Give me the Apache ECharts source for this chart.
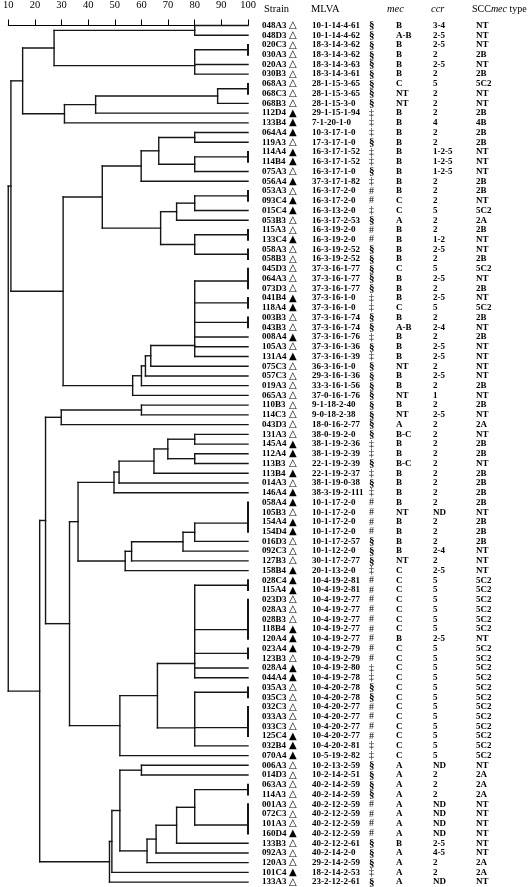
<!DOCTYPE html>
<html><head><meta charset="utf-8">
<script src="https://cdn.jsdelivr.net/npm/echarts@6.0.0/dist/echarts.min.js"></script>
<style>html,body{margin:0;padding:0;background:#fff}#c{width:528px;height:887px}</style>
</head><body><div id="c"></div>
<script>
// ---------- DATA ----------
const similarityTicks = [10, 20, 30, 40, 50, 60, 70, 80, 90, 100];
const headers = ['Strain', 'MLVA', 'mec', 'ccr', 'SCCmec type'];
const strains = ['048A3','048D3','020C3','030A3','020A3','030B3','068A3','068C3','068B3','112D4',
 '133B4','064A4','119A3','114A4','114B4','075A3','056A4','053A3','093C4','015C4',
 '053B3','115A3','133C4','058A3','058B3','045D3','064A3','073D3','041B4','118A4',
 '003B3','043B3','008A4','105A3','131A4','075C3','057C3','019A3','065A3','110B3',
 '114C3','043D3','131A3','145A4','112A4','113B3','113B4','014A3','146A4','058A4',
 '105B3','154A4','154D4','016D3','092C3','127B3','158B4','028C4','115A4','023D3',
 '028A3','028B3','118B4','120A4','023A4','123B3','028A4','044A4','035A3','035C3',
 '032C3','033A3','033C3','125C4','032B4','070A4','006A3','014D3','063A3','114A3',
 '001A3','072C3','101A3','160D4','133B3','092A3','120A3','101C4','133A3'];
const triangles = ['△','△','△','△','△','△','△','△','△','▲',
 '▲','▲','△','▲','▲','△','▲','△','▲','▲',
 '△','△','▲','△','△','△','△','△','▲','▲',
 '△','△','▲','△','▲','△','△','△','△','△',
 '△','△','△','▲','▲','△','▲','△','▲','▲',
 '△','▲','▲','△','△','△','▲','▲','▲','△',
 '△','△','▲','▲','▲','△','▲','▲','△','△',
 '△','△','△','▲','▲','▲','△','△','△','△',
 '△','△','△','▲','△','△','△','▲','△'];
const mlva = ['10-1-14-4-61','10-1-14-4-62','18-3-14-3-62','18-3-14-3-62','18-3-14-3-63','18-3-14-3-61','28-1-15-3-65','28-1-15-3-65','28-1-15-3-0','29-1-15-1-94',
 '7-1-20-1-0','10-3-17-1-0','17-3-17-1-0','16-3-17-1-52','16-3-17-1-52','16-3-17-1-0','37-3-17-1-82','16-3-17-2-0','16-3-17-2-0','16-3-13-2-0',
 '16-3-17-2-53','16-3-19-2-0','16-3-19-2-0','16-3-19-2-52','16-3-19-2-52','37-3-16-1-77','37-3-16-1-77','37-3-16-1-77','37-3-16-1-0','37-3-16-1-0',
 '37-3-16-1-74','37-3-16-1-74','37-3-16-1-76','37-3-16-1-36','37-3-16-1-39','36-3-16-1-0','29-3-16-1-36','33-3-16-1-56','37-0-16-1-76','9-1-18-2-40',
 '9-0-18-2-38','18-0-16-2-77','38-0-19-2-0','38-1-19-2-36','38-1-19-2-39','22-1-19-2-39','22-1-19-2-37','38-1-19-0-38','38-3-19-2-111','10-1-17-2-0',
 '10-1-17-2-0','10-1-17-2-0','10-1-17-2-0','10-1-17-2-57','10-1-12-2-0','30-1-17-2-77','20-1-13-2-0','10-4-19-2-81','10-4-19-2-81','10-4-19-2-77',
 '10-4-19-2-77','10-4-19-2-77','10-4-19-2-77','10-4-19-2-77','10-4-19-2-79','10-4-19-2-79','10-4-19-2-80','10-4-19-2-78','10-4-20-2-78','10-4-20-2-78',
 '10-4-20-2-77','10-4-20-2-77','10-4-20-2-77','10-4-20-2-77','10-4-20-2-81','10-5-19-2-82','10-2-13-2-59','10-2-14-2-51','40-2-14-2-59','40-2-14-2-59',
 '40-2-12-2-59','40-2-12-2-59','40-2-12-2-59','40-2-12-2-59','40-2-12-2-61','40-2-14-2-0','29-2-14-2-59','18-2-14-2-53','23-2-12-2-61'];
const marks = ['§','§','§','§','§','§','§','§','§','‡',
 '‡','‡','§','‡','‡','§','‡','#','#','‡',
 '§','#','#','§','§','§','§','§','‡','‡',
 '§','§','‡','§','‡','§','§','§','§','§',
 '§','§','§','‡','‡','§','‡','§','‡','#',
 '#','#','#','§','§','§','‡','#','#','#',
 '#','#','#','#','#','#','‡','‡','§','§',
 '#','#','#','#','‡','‡','§','§','§','§',
 '#','#','#','#','§','§','§','‡','§'];
const mec = ['B','A-B','B','B','B','B','C','NT','NT','B',
 'B','B','B','B','B','B','B','B','C','C',
 'A','B','B','B','B','C','B','B','B','C',
 'B','A-B','B','B','B','NT','B','B','NT','B',
 'NT','A','B-C','B','B','B-C','B','B','B','B',
 'NT','B','B','B','B','NT','C','C','C','C',
 'C','C','C','B','C','C','C','C','C','C',
 'C','C','C','C','C','C','A','A','A','A',
 'A','A','A','A','B','A','A','A','A'];
const ccr = ['3-4','2-5','2-5','2','2-5','2','5','2','2','2',
 '4','2','2','1-2-5','1-2-5','1-2-5','2','2','2','5',
 '2','2','1-2','2-5','2','5','2-5','2','2-5','5',
 '2','2-4','2','2-5','2-5','2','2-5','2','1','2',
 '2-5','2','2','2','2','2','2','2','2','2',
 'ND','2','2','2','2-4','2','2-5','5','5','5',
 '5','5','5','2-5','5','5','5','5','5','5',
 '5','5','5','5','5','5','ND','2','2','2',
 'ND','ND','ND','ND','2-5','4-5','2','2','ND'];
const scc = ['NT','NT','NT','2B','NT','2B','5C2','NT','NT','2B',
 '4B','2B','2B','NT','NT','NT','2B','2B','NT','5C2',
 '2A','2B','NT','NT','2B','5C2','NT','2B','NT','5C2',
 '2B','NT','2B','NT','NT','NT','NT','2B','NT','2B',
 'NT','2A','NT','2B','2B','NT','2B','2B','2B','2B',
 'NT','2B','2B','2B','NT','NT','NT','5C2','5C2','5C2',
 '5C2','5C2','5C2','NT','5C2','5C2','5C2','5C2','5C2','5C2',
 '5C2','5C2','5C2','5C2','5C2','5C2','NT','2A','2A','2A',
 'NT','NT','NT','NT','NT','NT','2A','2A','NT'];
// Dendrogram: [similarity %, child, child, ...] ; integers are row indices (leaves)
const tree = [10,
  [11.0,
    [15.4,
      [27.2, [80, 0, 1], [80, [100, 2, 3], 4, 5]],
      [31.1, [42.8, [88.6, [100, 6, 7], 8], 9], 10]
    ],
    [30.6,
      [45.3,
        [59.9, [66.5, [80, 11, 12], [80, [100, 13, 14], 15]], 16],
        [67.2, [73.2, [80, [100, 17, 18], 19], 20], [80, [100, 21, 22], [100, 23, 24]]]
      ],
      [56.7, [60, [61.5, [63.5, [80, [100, 25, 26, 27], [100, 28, 29], [100, 30, 31], 32, 33, 34], 35], 36], 37], 38]
    ]
  ],
  [21.8,
    [24.0,
      [29.9, [60, 39, 40], 41],
      [33.0,
        [36.2,
          [49.7, [51.6, [64.7, [69.9, [80, 42, 43], [80, 44, 45]], 46], 47], 48],
          [53.9, [56.3, [75.6, [80, [100, 49, 50, 51, 52], 53], 54], 55], 56]
        ],
        [51.9,
          [66.0, [80, [100, 57, 58], [100, 59, 60, 61, 62, 63], [100, 64, 65], 66, 67], [80, [100, 68, 69], [100, 70, 71, 72, 73], 74]],
          75
        ]
      ]
    ],
    [48.0, [48.9, [51.9, [60, 76, 77], [62.1, [65.5, [73.2, [80, [100, 78, 79], [100, 80, 81, 82, 83]], 84], 85], 86]], 87], 88]
  ]
];

// ---------- LAYOUT (tree -> segments in data coords) ----------
const segs = [];
function layout(node) {
  if (typeof node === 'number') return { x: 100, y: node };
  const h = node[0];
  const kids = node.slice(1).map(layout);
  let y = kids[0].y;
  for (let i = 1; i < kids.length; i++) y = (y + kids[i].y) / 2;
  segs.push([h, kids[0].y, h, kids[kids.length - 1].y]);
  kids.forEach(k => { if (k.x !== h) segs.push([h, k.y, k.x, k.y]); });
  return { x: h, y: y };
}
layout(tree);

const ROW_PX = 9.74, Y_MIN = -1.18, Y_MAX = 88.5, TOP = 14;
const COL = { strain: 262, tri: 289, mlva: 312, mark: 369, mec: 396, ccr: 433, scc: 476 };
const SERIF = '"Liberation Serif", "Times New Roman", serif';
const rows = strains.map((s, i) => [i]);

const chart = echarts.init(document.getElementById('c'), null, { renderer: 'canvas' });
chart.setOption({
  animation: false,
  backgroundColor: '#fff',
  grid: { left: 4, top: TOP, width: 244, height: (Y_MAX - Y_MIN) * ROW_PX },
  xAxis: {
    type: 'value', position: 'top', min: 10, max: 100, interval: 10,
    axisLine: { show: true, lineStyle: { color: '#000', width: 1 } },
    axisTick: { show: true, length: 6, lineStyle: { color: '#000', width: 1 } },
    axisLabel: { color: '#000', fontFamily: SERIF, fontSize: 10.5, margin: 3,
      formatter: v => similarityTicks.includes(v) ? String(v) : '' },
    splitLine: { show: false }
  },
  yAxis: { type: 'value', inverse: true, min: Y_MIN, max: Y_MAX, show: false },
  graphic: [
    { type: 'text', left: COL.strain + 2, top: 4, style: { text: headers[0], font: '10.5px ' + SERIF, fill: '#000' } },
    { type: 'text', left: COL.mlva - 1, top: 4, style: { text: headers[1], font: '10.5px ' + SERIF, fill: '#000' } },
    { type: 'text', left: COL.mec - 9, top: 4, style: { text: headers[2], font: 'italic 10.5px ' + SERIF, fill: '#000' } },
    { type: 'text', left: COL.ccr - 2, top: 4, style: { text: headers[3], font: 'italic 10.5px ' + SERIF, fill: '#000' } },
    { type: 'text', left: 472, top: 4, style: {
      text: '{n|SCC}{i|mec}{n| type}',
      rich: { n: { fontFamily: SERIF, fontSize: 10, color: '#000' },
              i: { fontFamily: SERIF, fontSize: 10, fontStyle: 'italic', color: '#000' } } } }
  ],
  series: [
    {
      type: 'custom', coordinateSystem: 'cartesian2d', clip: false, silent: true,
      data: segs,
      encode: { x: [0, 2], y: [1, 3] },
      renderItem: (params, api) => {
        const x1 = api.value(0), x2 = api.value(2);
        const p1 = api.coord([x1, api.value(1)]);
        const p2 = api.coord([x2, api.value(3)]);
        const bar = x1 === 100 && x2 === 100;
        return { type: 'line', shape: { x1: p1[0], y1: p1[1], x2: p2[0], y2: p2[1] },
          style: { stroke: '#161616', lineWidth: bar ? 2 : 1.4, lineCap: 'square' } };
      }
    },
    {
      type: 'custom', coordinateSystem: 'cartesian2d', clip: false, silent: true,
      data: rows,
      encode: { y: 0 },
      renderItem: (params, api) => {
        const i = api.value(0);
        const y = api.coord([100, i])[1];
        const t = (x, text, font) => ({ type: 'text', x: x, y: y,
          style: { text: text, font: font, fill: '#000', verticalAlign: 'middle', align: 'left' } });
        const B = 'bold 9px ' + SERIF;
        const m = marks[i];
        return { type: 'group', children: [
          t(COL.strain, strains[i], B),
          t(COL.tri, triangles[i], '10px "DejaVu Sans"'),
          t(COL.mlva, mlva[i], B),
          t(COL.mark, m, m === '§' ? 'bold 11px ' + SERIF : '10px ' + SERIF),
          t(COL.mec, mec[i], B),
          t(COL.ccr, ccr[i], B),
          t(COL.scc, scc[i], B)
        ] };
      }
    }
  ]
});
</script>
</body></html>
